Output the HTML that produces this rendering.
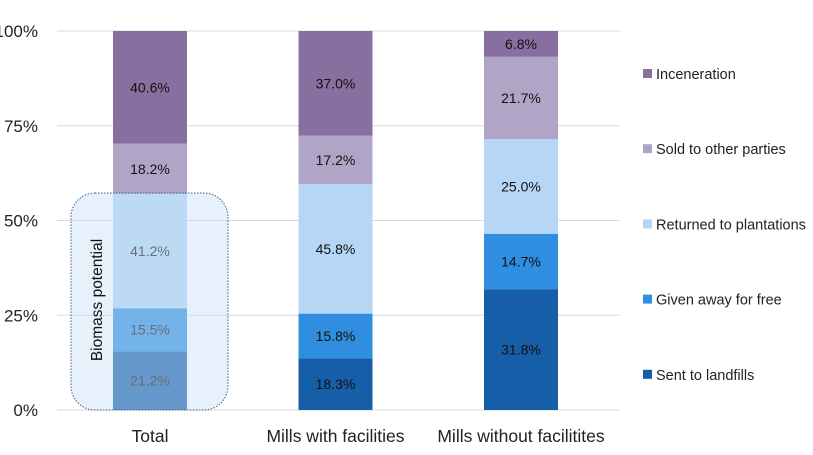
<!DOCTYPE html>
<html><head><meta charset="utf-8"><style>
body{margin:0;background:#fff;}
svg text{font-family:"Liberation Sans",sans-serif;}
</style></head><body>
<svg id="chart" width="813" height="450" xmlns="http://www.w3.org/2000/svg">
<g id="grid"></g><g id="bars"></g><g id="overlay"></g><g id="legend"></g>
</svg>
<script>
const categories = ["Total", "Mills with facilities", "Mills without facilitites"];
const seriesNames = ["Sent to landfills", "Given away for free", "Returned to plantations", "Sold to other parties", "Inceneration"];
const landfills = [21.2, 18.3, 31.8];
const givenAway = [15.5, 15.8, 14.7];
const returned = [41.2, 45.8, 25.0];
const sold = [18.2, 17.2, 21.7];
const incineration = [40.6, 37.0, 6.8];
const tickLabels = ["0%", "25%", "50%", "75%", "100%"];
const tickValues = [0, 25, 50, 75, 100];

const series = [landfills, givenAway, returned, sold, incineration];
const colors = ["#175ea8", "#2f8ee0", "#b5d6f4", "#b1a5c7", "#8770a0"];
const NS = "http://www.w3.org/2000/svg";
const y0 = 410, y100 = 31;
const yScale = v => y0 - (v / 100) * (y0 - y100);
const xCenter = i => 150 + i * 185.5;
const barW = 74;
function mk(tag, attrs, parent) {
  const e = document.createElementNS(NS, tag);
  for (const k in attrs) e.setAttribute(k, attrs[k]);
  parent.appendChild(e);
  return e;
}
const grid = document.getElementById('grid');
tickValues.forEach((v, i) => {
  const l = mk('line', {x1: 57, x2: 620, y1: yScale(v), y2: yScale(v), stroke: '#d9d9d9', 'stroke-width': 1}, grid);
  
  
  const t = mk('text', {x: 38, y: yScale(v) + 6, 'text-anchor': 'end', 'font-size': 17, fill: '#222'}, grid);
  t.textContent = tickLabels[i];
  
  
});
const bars = document.getElementById('bars');
categories.forEach((c, i) => {
  const total = series.reduce((s, arr) => s + arr[i], 0);
  let cum = 0;
  series.forEach((arr, s) => {
    const v = arr[i] / total * 100;
    const yt = yScale(cum + v), yb = yScale(cum);
    const r = mk('rect', {x: xCenter(i) - barW / 2, y: yt, width: barW, height: yb - yt, fill: colors[s]}, bars);
    
    
    const t = mk('text', {x: xCenter(i), y: (yt + yb) / 2 + 5, 'text-anchor': 'middle', 'font-size': 14, fill: '#111'}, bars);
    t.textContent = arr[i].toFixed(1) + '%';
    
    
    cum += v;
  });
  const xl = mk('text', {x: xCenter(i), y: 442, 'text-anchor': 'middle', 'font-size': 17.5, fill: '#222'}, bars);
  xl.textContent = c;
  
  
});
const ov = document.getElementById('overlay');
const ro = mk('rect', {x: 71, y: 193, width: 157, height: 217, rx: 24, fill: 'rgba(200,224,247,0.45)', stroke: '#3a5f8a', 'stroke-width': 1, 'stroke-dasharray': '1.5 1.5'}, ov);


const ot = mk('text', {x: 0, y: 0, 'text-anchor': 'middle', 'font-size': 15.5, fill: '#111', transform: 'translate(102,300) rotate(-90)'}, ov);
ot.textContent = 'Biomass potential';


const lg = document.getElementById('legend');
for (let s = seriesNames.length - 1; s >= 0; s--) {
  const yy = 74 + (4 - s) * 75.2;
  const sq = mk('rect', {x: 643, y: yy - 5, width: 9, height: 9, fill: colors[s]}, lg);
  
  
  const t = mk('text', {x: 656, y: yy + 5, 'font-size': 14.5, fill: '#222'}, lg);
  t.textContent = seriesNames[s];
  
  
}
</script>
</body></html>
